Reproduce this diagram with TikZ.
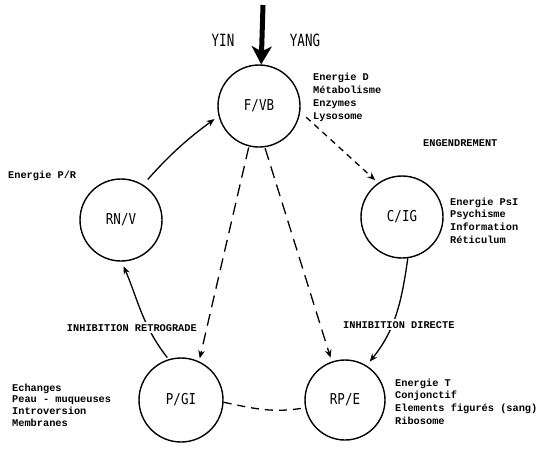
\documentclass[tikz,border=0pt]{standalone}
\usepackage{fontspec}
\usepackage{graphicx}
\usetikzlibrary{arrows.meta}
\newfontfamily\labfont{DejaVu Sans Mono}
\newfontfamily\txtfont{Liberation Mono}
\newcommand{\tallt}[1]{\scalebox{1}[1.2]{#1}}
\begin{document}
\begin{tikzpicture}[x=1pt,y=1pt,
  circ/.style={circle, draw, line width=1.4pt, minimum size=82pt, inner sep=0pt,
    font=\labfont\fontsize{12.5}{14}\selectfont},
  lab/.style={inner sep=0pt, font=\labfont\fontsize{12.5}{14}\selectfont},
  txt/.style={font=\txtfont\bfseries\fontsize{10.3}{12}\selectfont, inner sep=0pt, anchor=base west},
  mask/.style={txt, fill=white, inner sep=2pt},
  conn/.style={line width=1.3pt, -{Stealth[length=8pt,width=6.5pt]}},
  dsh/.style={conn, dash pattern=on 12pt off 7pt},
  dshs/.style={conn, dash pattern=on 6pt off 5pt},
  link/.style={line width=1.3pt, dash pattern=on 8pt off 6pt},
]
\useasboundingbox (0,0) rectangle (543,-448);

% circles
\node[circ] (fvb) at (259,-106) {\tallt{F/VB}};
\node[circ] (rnv) at (121,-220) {\tallt{RN/V}};
\node[circ] (cig) at (402,-217) {\tallt{C/IG}};
\node[circ, minimum size=84pt] (pgi) at (181,-400) {\tallt{P/GI}};
\node[circ, minimum size=80pt] (rpe) at (345,-400) {\tallt{RP/E}};

% top arrow and YIN / YANG
\coordinate (src) at (263,-5);
\draw[line width=5pt, -{Stealth[length=18pt,width=20pt,inset=5pt]}] (src) -- (fvb.87);
\node[lab] (yin) at (223,-40) {\scalebox{1}[1.35]{YIN}};
\node[lab] (yang) at (305,-40) {\scalebox{1}[1.35]{YANG}};

% connectors
\draw[conn, shorten <=7pt, shorten >=5pt] (rnv.58) to[bend left=6] (fvb.194);
\draw[dshs, shorten <=8pt, shorten >=4pt] (fvb.-8) -- (cig.125);
\draw[dsh, shorten <=1pt, shorten >=3pt] (fvb.-104) -- (pgi.65);
\draw[dsh, shorten <=1pt, shorten >=4pt] (fvb.-82) -- (rpe.109);
\draw[conn, shorten >=5pt] (cig.-82) to[out=-98,in=51] (rpe.58);
\draw[conn, shorten <=2pt, shorten >=5pt] (pgi.107) to[out=128,in=-67] (rnv.-89);
\draw[link] (pgi.-3) to[out=-12,in=190] (rpe.-169);

% labels on connectors
\node[mask, anchor=base east] (retro) at (199,-331) {INHIBITION RETROGRADE};
\node[mask] (direc) at (341,-328) {INHIBITION DIRECTE};
\node[txt] (engend) at (423,-146) {ENGENDREMENT};
\node[txt] (epr) at (8,-178) {Energie P/R};

% text blocks
\foreach \t [count=\i] in {Energie D, Métabolisme, Enzymes, Lysosome}
  \node[txt] (fa\i) at (313,{-80-13*(\i-1)}) {\t};
\foreach \t [count=\i] in {Energie PsI, Psychisme, Information, Réticulum}
  \node[txt] (ca\i) at (450,{-205-12.7*(\i-1)}) {\t};
\foreach \t [count=\i] in {Echanges, Peau - muqueuses, Introversion, Membranes}
  \node[txt] (pa\i) at (12,{-391-11.8*(\i-1)}) {\t};
\foreach \t [count=\i] in {Energie T, Conjonctif, Elements figurés (sang), Ribosome}
  \node[txt] (ra\i) at (395,{-386-12.7*(\i-1)}) {\t};
\end{tikzpicture}
\end{document}
